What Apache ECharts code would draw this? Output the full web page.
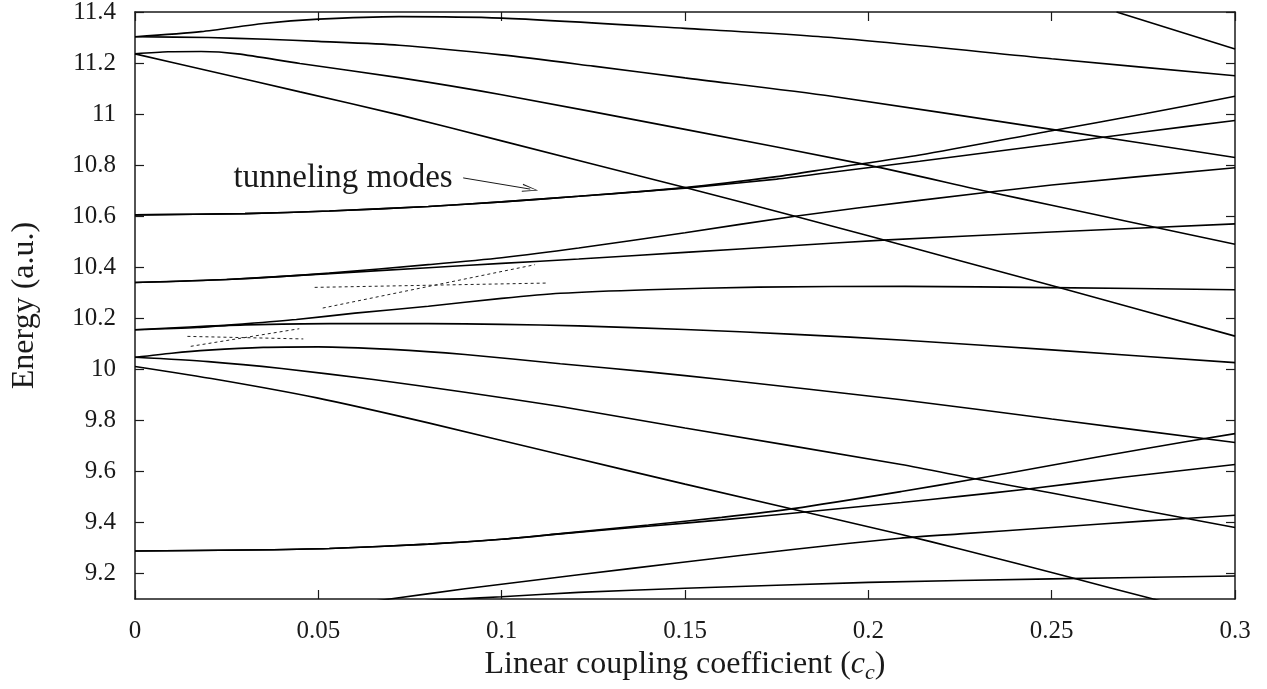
<!DOCTYPE html>
<html>
<head>
<meta charset="utf-8">
<script src="https://cdn.jsdelivr.net/npm/echarts@6/dist/echarts.min.js"></script>
<style>
  html, body { margin: 0; padding: 0; background: #fff; }
  #chart { width: 1267px; height: 689px; }
</style>
</head>
<body>
<div id="chart"></div>
<script>
// Energy levels versus linear coupling coefficient: each array is one level, as [c_c, energy] pairs.
const levelA  = [[0,11.303],[0.018,11.323],[0.035,11.355],[0.05,11.372],[0.072,11.382],[0.1,11.376],[0.15,11.336],[0.19,11.30],[0.25,11.217],[0.3,11.15]];
const levelB  = [[0,11.303],[0.02,11.300],[0.036,11.293],[0.05,11.285],[0.072,11.27],[0.1,11.232],[0.125,11.188],[0.15,11.142],[0.19,11.07],[0.25,10.94],[0.3,10.83]];
const levelC  = [[0,11.236],[0.009,11.244],[0.018,11.245],[0.028,11.236],[0.045,11.198],[0.072,11.143],[0.1,11.076],[0.15,10.94],[0.2,10.80],[0.233,10.695],[0.25,10.643],[0.3,10.49]];
const levelD  = [[0,11.236],[0.02,11.17],[0.045,11.087],[0.072,10.997],[0.1,10.895],[0.15,10.712],[0.18,10.60],[0.2,10.523],[0.25,10.328],[0.3,10.13]];
const levelS  = [[0.2677,11.4],[0.3,11.255]];
const tunnel1 = [[0,10.605],[0.03,10.61],[0.053,10.62],[0.08,10.638],[0.1,10.656],[0.121,10.678],[0.15,10.712],[0.175,10.755],[0.19,10.788],[0.214,10.84],[0.25,10.935],[0.275,11.0],[0.3,11.07]];
const tunnel2 = [[0,10.605],[0.03,10.61],[0.053,10.62],[0.08,10.638],[0.1,10.656],[0.121,10.678],[0.15,10.71],[0.175,10.745],[0.19,10.772],[0.214,10.815],[0.25,10.882],[0.275,10.93],[0.3,10.975]];
const levelE1 = [[0,10.34],[0.025,10.352],[0.053,10.377],[0.08,10.41],[0.1,10.437],[0.121,10.475],[0.15,10.535],[0.18,10.60],[0.214,10.662],[0.25,10.722],[0.3,10.79]];
const levelE2 = [[0,10.34],[0.025,10.352],[0.053,10.375],[0.08,10.398],[0.1,10.415],[0.121,10.432],[0.15,10.458],[0.18,10.485],[0.204,10.506],[0.25,10.538],[0.3,10.57]];
const levelF1 = [[0,10.155],[0.017,10.164],[0.03,10.178],[0.044,10.195],[0.06,10.22],[0.08,10.247],[0.1,10.278],[0.116,10.298],[0.14,10.312],[0.17,10.322],[0.21,10.325],[0.25,10.32],[0.3,10.312]];
const levelF2 = [[0,10.155],[0.015,10.166],[0.03,10.174],[0.053,10.179],[0.08,10.179],[0.1,10.176],[0.121,10.17],[0.15,10.156],[0.18,10.137],[0.21,10.114],[0.25,10.076],[0.3,10.026]];
const levelG1 = [[0,10.047],[0.01,10.063],[0.02,10.075],[0.035,10.086],[0.05,10.088],[0.07,10.078],[0.09,10.058],[0.116,10.022],[0.14,9.99],[0.16,9.96],[0.209,9.881],[0.25,9.805],[0.3,9.713]];
const levelG2 = [[0,10.047],[0.02,10.03],[0.04,10.003],[0.065,9.96],[0.09,9.91],[0.116,9.854],[0.15,9.77],[0.209,9.627],[0.229,9.571],[0.25,9.515],[0.3,9.38]];
const levelH  = [[0,10.011],[0.0224,9.96],[0.0496,9.888],[0.08,9.79],[0.116,9.666],[0.15,9.55],[0.209,9.353],[0.225,9.296],[0.255,9.185],[0.2777,9.1],[0.29,9.055]];
const levelK1 = [[0,9.288],[0.03,9.292],[0.053,9.298],[0.08,9.315],[0.1,9.334],[0.116,9.356],[0.14,9.39],[0.16,9.42],[0.18,9.455],[0.209,9.521],[0.229,9.57],[0.25,9.624],[0.275,9.688],[0.3,9.748]];
const levelK2 = [[0,9.288],[0.03,9.292],[0.053,9.298],[0.08,9.315],[0.1,9.334],[0.116,9.355],[0.14,9.385],[0.16,9.41],[0.18,9.437],[0.209,9.478],[0.225,9.502],[0.243,9.53],[0.27,9.578],[0.3,9.627]];
const levelJ1 = [[0.05,9.062],[0.0695,9.1],[0.09,9.14],[0.121,9.195],[0.15,9.245],[0.18,9.295],[0.2086,9.338],[0.225,9.355],[0.25,9.38],[0.275,9.405],[0.3,9.428]];
const levelJ2 = [[0.07,9.086],[0.088,9.1],[0.1,9.109],[0.121,9.126],[0.15,9.142],[0.2,9.165],[0.25,9.179],[0.3,9.19]];

// Dotted diabatic guides through the two avoided crossings.
const guideUpperFlat = [[0.049,10.321],[0.1125,10.338]];
const guideUpperRise = [[0.0512,10.24],[0.1091,10.41]];
const guideLowerFlat = [[0.0143,10.129],[0.0459,10.119]];
const guideLowerRise = [[0.0152,10.09],[0.0448,10.159]];

// Annotation arrow (tail, head) in data units.
const tunnelArrow = [[0.0895,10.750],[0.1078,10.706]];
const tunnelLabel = 'tunneling modes';

// Axis ticks.
const yTickValues = [9.2, 9.4, 9.6, 9.8, 10, 10.2, 10.4, 10.6, 10.8, 11, 11.2, 11.4];
const xRange = [0, 0.3];
const xStep = 0.05;
const yRange = [9.1, 11.4];

const FONT = '"Liberation Serif", "Times New Roman", serif';
const INK = '#1a1a1a';
const fmt = v => String(parseFloat(Number(v).toFixed(3)));

const levels = [levelA, levelB, levelC, levelD, levelS, tunnel1, tunnel2, levelE1, levelE2,
                levelF1, levelF2, levelG1, levelG2, levelH, levelK1, levelK2, levelJ1, levelJ2];
const guides = [guideUpperFlat, guideUpperRise, guideLowerFlat, guideLowerRise];

const frameLine = { show: true, onZero: false, lineStyle: { color: INK, width: 1.5 } };
const innerTick = { show: true, inside: true, length: 9, lineStyle: { color: INK, width: 1.2 } };

const series = levels.map(d => ({
  type: 'line', data: d, symbol: 'none', smooth: 0.25,
  lineStyle: { color: '#000', width: 1.6 }, silent: true, clip: true, z: 3
}));

guides.forEach(d => series.push({
  type: 'line', data: d, symbol: 'none',
  lineStyle: { color: '#222', width: 1, type: [3, 3] }, silent: true, z: 2
}));

// Label and arrow for the tunneling pair.
series.push({
  type: 'line', data: [], symbol: 'none', silent: true,
  markPoint: {
    silent: true, symbol: 'rect', symbolSize: 1, itemStyle: { color: 'rgba(0,0,0,0)' },
    label: { show: true, position: 'left', distance: 10, formatter: tunnelLabel,
             fontFamily: FONT, fontSize: 33, color: INK },
    data: [{ coord: tunnelArrow[0] }]
  },
  markLine: {
    silent: true, animation: false,
    symbol: ['none', 'path://M5,0 L10,20 L8.6,20 L5,3.2 L1.4,20 L0,20 Z'],
    symbolSize: [8, 16],
    lineStyle: { color: INK, width: 1, type: 'solid' },
    label: { show: false },
    data: [[{ coord: tunnelArrow[0] }, { coord: tunnelArrow[1] }]]
  }
});

const option = {
  animation: false,
  backgroundColor: '#fff',
  grid: { left: 135, right: 32, top: 12, bottom: 90, containLabel: false, outerBoundsMode: 'none' },
  xAxis: [{
    type: 'value', position: 'bottom', min: xRange[0], max: xRange[1], interval: xStep,
    axisLine: frameLine, axisTick: innerTick, splitLine: { show: false },
    axisLabel: { margin: 20, fontFamily: FONT, fontSize: 25, color: INK, formatter: fmt },
    name: 'Linear coupling coefficient ({ci|c}{cs|c})',
    nameLocation: 'middle', nameGap: 42,
    nameTextStyle: {
      fontFamily: FONT, fontSize: 32, color: INK,
      rich: {
        ci: { fontFamily: FONT, fontSize: 32, fontStyle: 'italic', color: INK },
        cs: { fontFamily: FONT, fontSize: 22, fontStyle: 'italic', color: INK, padding: [16, 0, 0, 0] }
      }
    }
  }, {
    type: 'value', position: 'top', min: xRange[0], max: xRange[1], interval: xStep,
    axisLine: frameLine, axisTick: innerTick, splitLine: { show: false },
    axisLabel: { show: false }
  }],
  yAxis: [{
    type: 'value', position: 'left', min: yRange[0], max: yRange[1],
    axisLine: frameLine, splitLine: { show: false },
    axisTick: Object.assign({ customValues: yTickValues }, innerTick),
    axisLabel: { customValues: yTickValues, margin: 19, fontFamily: FONT, fontSize: 25, color: INK, formatter: fmt },
    name: 'Energy (a.u.)', nameLocation: 'middle', nameGap: 94,
    nameTextStyle: { fontFamily: FONT, fontSize: 32, color: INK }
  }, {
    type: 'value', position: 'right', min: yRange[0], max: yRange[1],
    axisLine: frameLine, splitLine: { show: false },
    axisTick: Object.assign({ customValues: yTickValues }, innerTick),
    axisLabel: { show: false }
  }],
  series: series
};

const chart = echarts.init(document.getElementById('chart'), null, { renderer: 'canvas' });
chart.setOption(option);
</script>
</body>
</html>
